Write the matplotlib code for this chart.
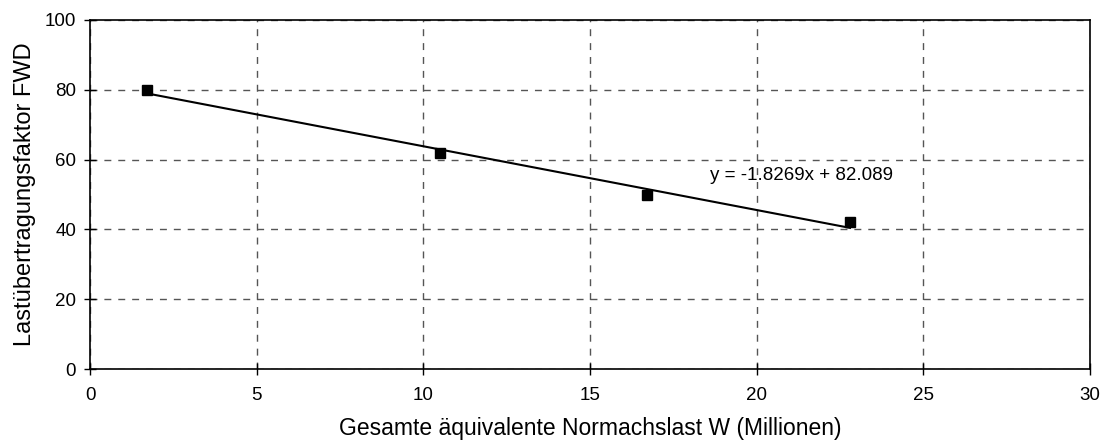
import matplotlib
matplotlib.use("Agg")
import matplotlib.pyplot as plt
import numpy as np

plt.rcParams['font.family'] = ['Liberation Sans', 'DejaVu Sans']

x_vals = [1.7, 10.5, 16.7, 22.8]
y_vals = [80, 62, 50, 42]
slope = -1.8269
intercept = 82.089
eq_text = "y = -1.8269x + 82.089"
x_ticks = [0, 5, 10, 15, 20, 25, 30]
y_ticks = [0, 20, 40, 60, 80, 100]

fig = plt.figure(figsize=(11.03, 4.41), dpi=100)
ax = fig.add_axes([90/1103, 72/441, 1000/1103, 349/441])

ax.set_xlim(0, 30)
ax.set_ylim(0, 100)
ax.set_xticks(x_ticks)
ax.set_yticks(y_ticks)
ax.grid(True, color='#555555', linestyle=(0, (5, 5)), linewidth=1.0)
ax.set_axisbelow(True)

xl = np.array([min(x_vals), max(x_vals)])
ax.plot(xl, slope * xl + intercept, color='black', linewidth=1.5, zorder=3)
ax.plot(x_vals, y_vals, linestyle='none', marker='s', markersize=7,
        color='black', zorder=4)

ax.text(18.6, 55.5, eq_text, fontsize=13.5, va='center', ha='left')

for s in ax.spines.values():
    s.set_color('black')
    s.set_linewidth(1.2)
ax.tick_params(direction='inout', length=8, width=1, labelsize=13.5, pad=6)
ax.tick_params(axis='x', pad=9)

ax.set_xlabel('Gesamte äquivalente Normachslast W (Millionen)', fontsize=16.5, labelpad=9)
ax.set_ylabel('Lastübertragungsfaktor FWD', fontsize=17, labelpad=6)

fig.savefig('out.png', dpi=100)
